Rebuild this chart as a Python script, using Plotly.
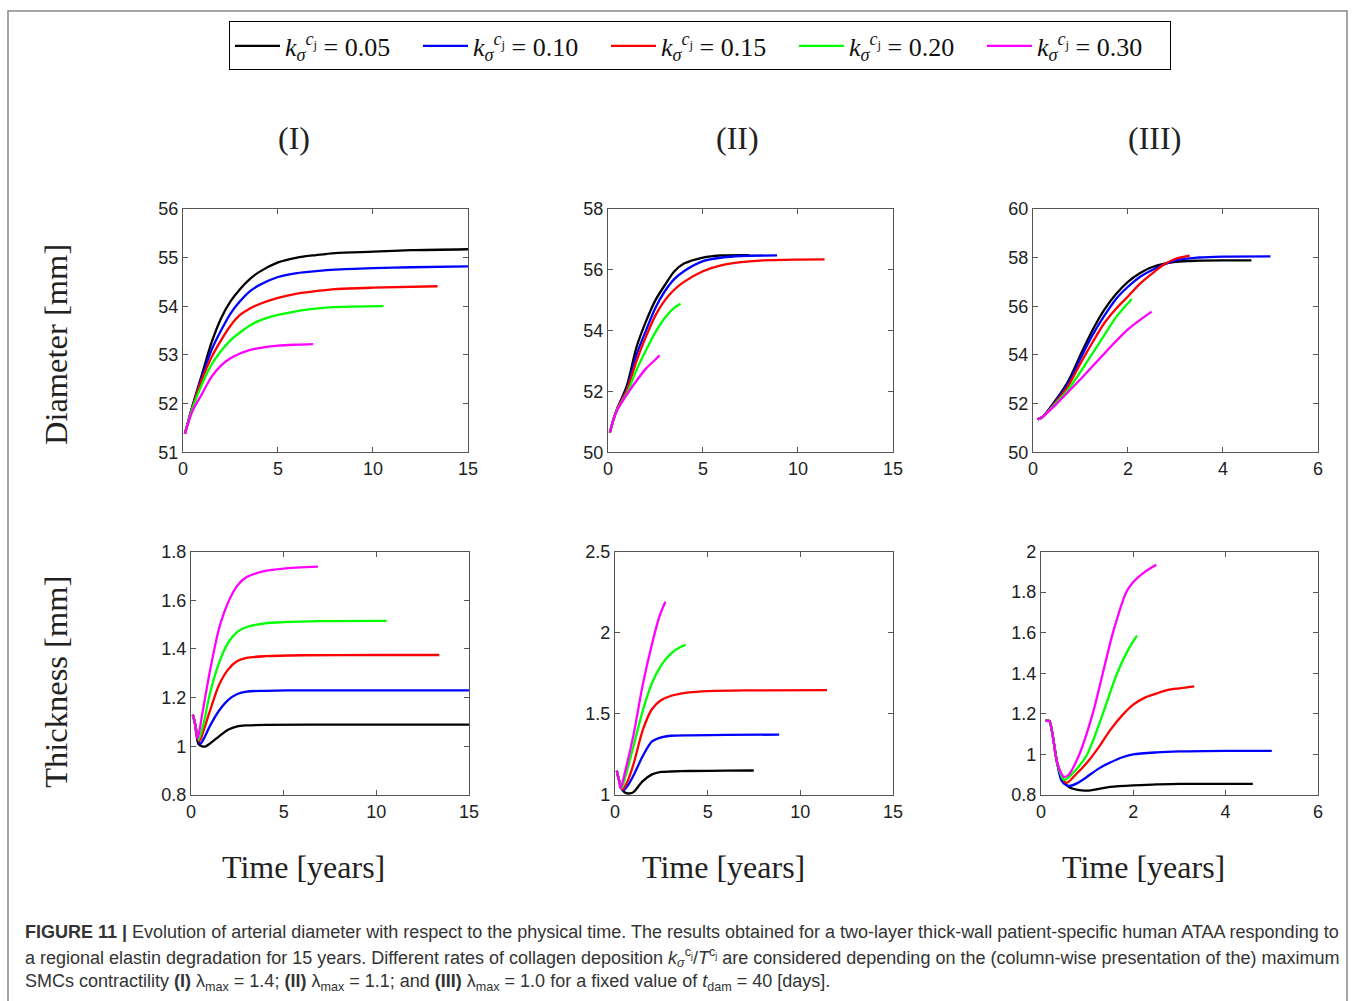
import plotly.graph_objects as go

W, H = 1357, 1001

# ---------------- data ----------------
k_labels = ["0.05", "0.10", "0.15", "0.20", "0.30"]
colors = ["#000000", "#0000ff", "#ff0000", "#00ff00", "#ff00ff"]
col_titles = ["(I)", "(II)", "(III)"]

# Diameter, column I (lambda_max = 1.4)
dI_t_005 = [0.1, 0.5, 1, 1.5, 2, 2.5, 3, 3.5, 4, 5, 6, 7, 8, 10, 12, 15]
dI_y_005 = [51.38, 51.95, 52.6, 53.25, 53.75, 54.1, 54.35, 54.55, 54.7, 54.9, 55.0, 55.05, 55.09, 55.12, 55.15, 55.17]
dI_t_010 = [0.1, 0.5, 1, 1.5, 2, 2.5, 3, 3.5, 4, 5, 6, 7, 8, 10, 12, 15]
dI_y_010 = [51.38, 51.95, 52.55, 53.1, 53.5, 53.85, 54.1, 54.3, 54.43, 54.6, 54.68, 54.72, 54.75, 54.78, 54.8, 54.82]
dI_t_015 = [0.1, 0.5, 1, 1.5, 2, 2.5, 3, 3.5, 4, 5, 6, 7, 8, 10, 13.4]
dI_y_015 = [51.38, 51.93, 52.5, 52.95, 53.3, 53.6, 53.82, 53.95, 54.04, 54.17, 54.26, 54.31, 54.35, 54.38, 54.41]
dI_t_020 = [0.1, 0.5, 1, 1.5, 2, 2.5, 3, 3.5, 4, 5, 6, 7, 8, 10.55]
dI_y_020 = [51.38, 51.9, 52.4, 52.8, 53.08, 53.3, 53.46, 53.6, 53.7, 53.82, 53.9, 53.95, 53.98, 54.0]
dI_t_030 = [0.1, 0.5, 1, 1.5, 2, 2.5, 3, 3.5, 4, 5, 6, 6.85]
dI_y_030 = [51.38, 51.85, 52.2, 52.55, 52.78, 52.93, 53.03, 53.1, 53.14, 53.19, 53.21, 53.22]

# Diameter, column II (lambda_max = 1.1)
dII_t_005 = [0.1, 0.3, 0.5, 1, 1.5, 2, 2.5, 3, 3.5, 4, 5, 6, 7.45]
dII_y_005 = [50.65, 51.1, 51.45, 52.2, 53.45, 54.3, 55.0, 55.5, 55.95, 56.2, 56.4, 56.47, 56.48]
dII_t_010 = [0.1, 0.3, 0.5, 1, 1.5, 2, 2.5, 3, 3.5, 4, 5, 6, 7, 8.9]
dII_y_010 = [50.65, 51.1, 51.45, 52.1, 53.2, 54.0, 54.75, 55.3, 55.7, 55.95, 56.28, 56.4, 56.45, 56.47]
dII_t_015 = [0.1, 0.3, 0.5, 1, 1.5, 2, 2.5, 3, 3.5, 4, 5, 6, 7, 8, 10, 11.4]
dII_y_015 = [50.65, 51.1, 51.45, 52.05, 53.0, 53.8, 54.5, 55.0, 55.35, 55.6, 55.95, 56.15, 56.25, 56.3, 56.33, 56.34]
dII_t_020 = [0.1, 0.3, 0.5, 1, 1.5, 2, 2.5, 3, 3.5, 3.82]
dII_y_020 = [50.65, 51.1, 51.42, 51.95, 52.7, 53.35, 53.95, 54.42, 54.75, 54.88]
dII_t_030 = [0.1, 0.3, 0.5, 1, 1.5, 2, 2.5, 2.72]
dII_y_030 = [50.65, 51.1, 51.4, 51.9, 52.35, 52.75, 53.05, 53.19]

# Diameter, column III (lambda_max = 1.0)
dIII_t_005 = [0.1, 0.2, 0.5, 0.75, 1, 1.25, 1.5, 1.75, 2, 2.25, 2.5, 3, 3.5, 4, 4.6]
dIII_y_005 = [51.35, 51.45, 52.2, 52.95, 54.0, 55.0, 55.85, 56.5, 57.0, 57.35, 57.6, 57.82, 57.87, 57.88, 57.88]
dIII_t_010 = [0.1, 0.2, 0.5, 0.75, 1, 1.25, 1.5, 1.75, 2, 2.25, 2.5, 3, 3.5, 4, 5]
dIII_y_010 = [51.35, 51.45, 52.15, 52.85, 53.85, 54.8, 55.6, 56.3, 56.8, 57.2, 57.48, 57.88, 58.0, 58.04, 58.05]
dIII_t_015 = [0.1, 0.2, 0.5, 0.75, 1, 1.25, 1.5, 1.75, 2, 2.25, 2.5, 2.75, 3, 3.3]
dIII_y_015 = [51.35, 51.45, 52.1, 52.75, 53.65, 54.5, 55.3, 55.9, 56.4, 56.92, 57.33, 57.7, 57.95, 58.08]
dIII_t_020 = [0.1, 0.2, 0.5, 0.75, 1, 1.25, 1.5, 1.75, 2.08]
dIII_y_020 = [51.35, 51.45, 52.05, 52.6, 53.3, 54.05, 54.8, 55.55, 56.3]
dIII_t_030 = [0.1, 0.2, 0.5, 1, 1.5, 2, 2.5]
dIII_y_030 = [51.35, 51.45, 52.0, 53.0, 54.05, 55.05, 55.78]

# Thickness, column I
hI_t_005 = [0.1, 0.2, 0.4, 0.6, 0.8, 1, 1.5, 2, 2.5, 3, 4, 8, 15]
hI_y_005 = [1.13, 1.1, 1.01, 1.0, 1.0, 1.01, 1.04, 1.068, 1.082, 1.086, 1.088, 1.089, 1.089]
hI_t_010 = [0.1, 0.2, 0.5, 0.75, 1, 1.5, 2, 2.5, 3, 4, 6, 10, 15]
hI_y_010 = [1.13, 1.1, 1.01, 1.04, 1.08, 1.145, 1.19, 1.215, 1.225, 1.228, 1.23, 1.23, 1.23]
hI_t_015 = [0.1, 0.2, 0.45, 0.7, 1, 1.5, 2, 2.5, 3, 4, 6, 10, 13.4]
hI_y_015 = [1.13, 1.1, 1.02, 1.07, 1.14, 1.25, 1.315, 1.35, 1.363, 1.37, 1.374, 1.375, 1.375]
hI_t_020 = [0.1, 0.2, 0.4, 0.7, 1, 1.5, 2, 2.5, 3, 4, 5, 7, 10.55]
hI_y_020 = [1.13, 1.1, 1.025, 1.1, 1.21, 1.34, 1.425, 1.47, 1.49, 1.505, 1.51, 1.514, 1.515]
hI_t_030 = [0.1, 0.2, 0.35, 0.6, 1, 1.5, 2, 2.5, 3, 4, 5, 6.85]
hI_y_030 = [1.13, 1.1, 1.03, 1.13, 1.3, 1.48, 1.59, 1.66, 1.695, 1.72, 1.73, 1.738]

# Thickness, column II
hII_t_005 = [0.1, 0.2, 0.4, 0.6, 0.8, 1, 1.5, 2, 2.5, 3, 4, 6, 7.49]
hII_y_005 = [1.15, 1.1, 1.03, 1.012, 1.01, 1.018, 1.085, 1.127, 1.142, 1.145, 1.148, 1.15, 1.151]
hII_t_010 = [0.1, 0.2, 0.45, 0.7, 1, 1.5, 2, 2.5, 3, 4, 6, 8.86]
hII_y_010 = [1.15, 1.1, 1.03, 1.06, 1.12, 1.24, 1.33, 1.355, 1.365, 1.368, 1.37, 1.372]
hII_t_015 = [0.1, 0.2, 0.4, 0.7, 1, 1.5, 2, 2.5, 3, 4, 5, 7, 11.44]
hII_y_015 = [1.15, 1.1, 1.035, 1.09, 1.19, 1.4, 1.53, 1.585, 1.61, 1.632, 1.64, 1.645, 1.646]
hII_t_020 = [0.1, 0.2, 0.35, 0.6, 1, 1.5, 2, 2.5, 3, 3.5, 3.82]
hII_y_020 = [1.15, 1.1, 1.04, 1.13, 1.3, 1.52, 1.69, 1.8, 1.87, 1.91, 1.925]
hII_t_030 = [0.1, 0.2, 0.3, 0.6, 1, 1.5, 2, 2.4, 2.72]
hII_y_030 = [1.15, 1.1, 1.04, 1.17, 1.37, 1.68, 1.93, 2.1, 2.19]

# Thickness, column III
hIII_t_005 = [0.1, 0.18, 0.25, 0.35, 0.45, 0.6, 0.8, 1, 1.25, 1.5, 2, 2.5, 3, 4, 4.59]
hIII_y_005 = [1.165, 1.165, 1.1, 0.96, 0.88, 0.84, 0.825, 0.822, 0.83, 0.84, 0.848, 0.852, 0.855, 0.855, 0.855]
hIII_t_010 = [0.1, 0.18, 0.25, 0.35, 0.45, 0.6, 0.8, 1, 1.25, 1.5, 1.75, 2, 2.5, 3, 4, 5]
hIII_y_010 = [1.165, 1.165, 1.1, 0.96, 0.87, 0.845, 0.86, 0.89, 0.93, 0.96, 0.985, 1.0, 1.01, 1.015, 1.018, 1.018]
hIII_t_015 = [0.1, 0.18, 0.25, 0.35, 0.55, 0.75, 1, 1.25, 1.5, 1.75, 2, 2.25, 2.5, 2.75, 3, 3.32]
hIII_y_015 = [1.165, 1.165, 1.1, 0.96, 0.86, 0.9, 0.96, 1.035, 1.12, 1.19, 1.245, 1.28, 1.3, 1.318, 1.326, 1.335]
hIII_t_020 = [0.1, 0.18, 0.25, 0.35, 0.5, 0.7, 1.0, 1.34, 1.65, 1.9, 2.08]
hIII_y_020 = [1.165, 1.165, 1.1, 0.96, 0.875, 0.91, 1.0, 1.2, 1.4, 1.52, 1.585]
hIII_t_030 = [0.1, 0.18, 0.25, 0.35, 0.5, 0.6, 0.83, 1.12, 1.34, 1.56, 1.85, 2.0, 2.25, 2.5]
hIII_y_030 = [1.165, 1.165, 1.1, 0.96, 0.89, 0.9, 1.0, 1.2, 1.4, 1.6, 1.8, 1.85, 1.9, 1.935]

diam_x_range = [[0, 15], [0, 15], [0, 6]]
diam_y_range = [[51, 56], [50, 58], [50, 60]]
diam_x_ticks = [[0, 5, 10, 15], [0, 5, 10, 15], [0, 2, 4, 6]]
diam_y_ticks = [[51, 52, 53, 54, 55, 56], [50, 52, 54, 56, 58], [50, 52, 54, 56, 58, 60]]
thick_x_range = [[0, 15], [0, 15], [0, 6]]
thick_y_range = [[0.8, 1.8], [1, 2.5], [0.8, 2]]
thick_y_ticks = [[0.8, 1, 1.2, 1.4, 1.6, 1.8], [1, 1.5, 2, 2.5], [0.8, 1, 1.2, 1.4, 1.6, 1.8, 2]]
thick_y_ticktext = [["0.8", "1", "1.2", "1.4", "1.6", "1.8"], ["1", "1.5", "2", "2.5"],
                    ["0.8", "1", "1.2", "1.4", "1.6", "1.8", "2"]]

diam_series = [
    [(dI_t_005, dI_y_005), (dI_t_010, dI_y_010), (dI_t_015, dI_y_015), (dI_t_020, dI_y_020), (dI_t_030, dI_y_030)],
    [(dII_t_005, dII_y_005), (dII_t_010, dII_y_010), (dII_t_015, dII_y_015), (dII_t_020, dII_y_020), (dII_t_030, dII_y_030)],
    [(dIII_t_005, dIII_y_005), (dIII_t_010, dIII_y_010), (dIII_t_015, dIII_y_015), (dIII_t_020, dIII_y_020), (dIII_t_030, dIII_y_030)],
]
thick_series = [
    [(hI_t_005, hI_y_005), (hI_t_010, hI_y_010), (hI_t_015, hI_y_015), (hI_t_020, hI_y_020), (hI_t_030, hI_y_030)],
    [(hII_t_005, hII_y_005), (hII_t_010, hII_y_010), (hII_t_015, hII_y_015), (hII_t_020, hII_y_020), (hII_t_030, hII_y_030)],
    [(hIII_t_005, hIII_y_005), (hIII_t_010, hIII_y_010), (hIII_t_015, hIII_y_015), (hIII_t_020, hIII_y_020), (hIII_t_030, hIII_y_030)],
]

# ---------------- layout helpers (target pixel boxes) ----------------
top_boxes = [(182, 467), (607, 892), (1032, 1317)]
bot_boxes = [(190, 468), (614, 892), (1040, 1317)]
top_y = (209, 452)
bot_y = (551, 794)

# compensation for the observed placement of the page in the photograph
SX, OX, SY, OY = 0.989, 4.0, 0.978, 10.6

def fx(t):
    return min(max((t - OX) / SX / W, 0.0), 1.0)

def fy(t):
    return min(max(1 - (t - OY) / SY / H, 0.0), 1.0)

def xd(a, b):
    return [fx(a), fx(b)]

def yd(top, bottom):
    return [fy(bottom), fy(top)]

SERIF = "Liberation Serif, Times New Roman, serif"
SANS = "Liberation Sans, Arial, sans-serif"

fig = go.Figure()
layout = {}

axis_style = dict(showline=True, mirror="ticks", linecolor="#555555", linewidth=1,
                  ticks="inside", ticklen=5, tickcolor="#555555", showgrid=False,
                  zeroline=False, tickfont=dict(family=SANS, size=18, color="#222222"))

legend_name = lambda k: "<i>k</i><sub><i>σ</i></sub><sup><i>c</i><sub>j</sub></sup> = " + k

for c in range(3):
    i = c + 1
    xa = "xaxis" if i == 1 else f"xaxis{i}"
    ya = "yaxis" if i == 1 else f"yaxis{i}"
    layout[xa] = dict(domain=xd(*top_boxes[c]), range=diam_x_range[c], tickvals=diam_x_ticks[c],
                      anchor="y" if i == 1 else f"y{i}", **axis_style)
    layout[ya] = dict(domain=yd(*top_y), range=diam_y_range[c], tickvals=diam_y_ticks[c],
                      anchor="x" if i == 1 else f"x{i}", **axis_style)
    for s, (tx, ty) in enumerate(diam_series[c]):
        fig.add_trace(go.Scatter(x=tx, y=ty, mode="lines", line=dict(color=colors[s], width=2.3, shape="spline", smoothing=0.8),
                                 name=legend_name(k_labels[s]), showlegend=(c == 0),
                                 xaxis="x" if i == 1 else f"x{i}", yaxis="y" if i == 1 else f"y{i}"))
    j = c + 4
    layout[f"xaxis{j}"] = dict(domain=xd(*bot_boxes[c]), range=thick_x_range[c], tickvals=diam_x_ticks[c],
                               anchor=f"y{j}", **axis_style)
    layout[f"yaxis{j}"] = dict(domain=yd(*bot_y), range=thick_y_range[c], tickvals=thick_y_ticks[c],
                               ticktext=thick_y_ticktext[c], anchor=f"x{j}", **axis_style)
    for s, (tx, ty) in enumerate(thick_series[c]):
        fig.add_trace(go.Scatter(x=tx, y=ty, mode="lines", line=dict(color=colors[s], width=2.3, shape="spline", smoothing=0.8),
                                 name=legend_name(k_labels[s]), showlegend=False,
                                 xaxis=f"x{j}", yaxis=f"y{j}"))

annotations = []
for cx, ttl in zip([293, 737, 1154], col_titles):
    annotations.append(dict(text=ttl, x=fx(cx), y=fy(138), xref="paper", yref="paper",
                            showarrow=False, xanchor="center", yanchor="middle",
                            font=dict(family=SERIF, size=32, color="#222222")))
for cx in [303, 723, 1143]:
    annotations.append(dict(text="Time [years]", x=fx(cx), y=fy(866), xref="paper", yref="paper",
                            showarrow=False, xanchor="center", yanchor="middle",
                            font=dict(family=SERIF, size=32, color="#222222")))
annotations.append(dict(text="Diameter [mm]", x=fx(55), y=fy(344), xref="paper", yref="paper",
                        showarrow=False, textangle=-90, xanchor="center", yanchor="middle",
                        font=dict(family=SERIF, size=32.5, color="#222222")))
annotations.append(dict(text="Thickness [mm]", x=fx(55), y=fy(681), xref="paper", yref="paper",
                        showarrow=False, textangle=-90, xanchor="center", yanchor="middle",
                        font=dict(family=SERIF, size=32.5, color="#222222")))

caption_lines = [
    "<b>FIGURE 11 |</b> Evolution of arterial diameter with respect to the physical time. The results obtained for a two-layer thick-wall patient-specific human ATAA responding to",
    "a regional elastin degradation for 15 years. Different rates of collagen deposition <i>k</i><sub><i>σ</i></sub><sup>c<sub>j</sub></sup>/<i>T</i><sup>c<sub>j</sub></sup> are considered depending on the (column-wise presentation of the) maximum",
    "SMCs contractility <b>(I)</b> λ<sub>max</sub> = 1.4; <b>(II)</b> λ<sub>max</sub> = 1.1; and <b>(III)</b> λ<sub>max</sub> = 1.0 for a fixed value of <i>t</i><sub>dam</sub> = 40 [days].",
]
for line, cy in zip(caption_lines, [931, 956, 981]):
    annotations.append(dict(text=line, x=fx(22), y=fy(cy), xref="paper", yref="paper",
                            showarrow=False, xanchor="left", yanchor="middle", align="left",
                            font=dict(family=SANS, size=18, color="#333333")))

shapes = [dict(type="rect", xref="paper", yref="paper", x0=fx(7), x1=fx(1355), y0=-0.05, y1=fy(8) - 0.001,
               line=dict(color="#888888", width=1.5), fillcolor="rgba(0,0,0,0)")]

fig.update_layout(
    width=W, height=H, margin=dict(l=0, r=0, t=0, b=0),
    paper_bgcolor="white", plot_bgcolor="white",
    legend=dict(orientation="h", x=fx(699), y=fy(22), xanchor="center", yanchor="top",
                bordercolor="#000000", borderwidth=1, bgcolor="white",
                font=dict(family=SERIF, size=26, color="#111111"), itemwidth=45,
                entrywidth=128, entrywidthmode="pixels", tracegroupgap=0),
    annotations=annotations, shapes=shapes, **layout)

fig.write_html("out.html", config={"displayModeBar": False},
               post_script="document.body.style.margin='0px';document.body.style.overflow='hidden';")
